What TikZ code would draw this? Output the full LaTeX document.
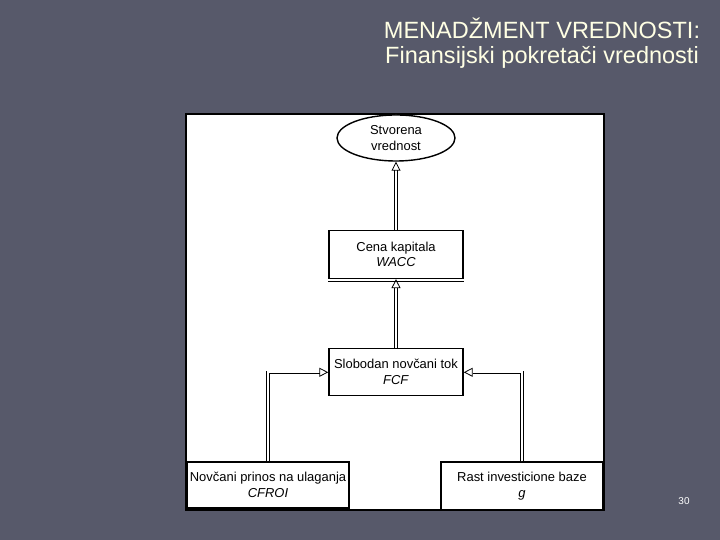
\documentclass[tikz,border=0pt]{standalone}
\usepackage{fontspec}
\setmainfont{Liberation Sans}
\usetikzlibrary{positioning,shapes.geometric,arrows.meta}
\definecolor{slate}{RGB}{87,89,106}
\definecolor{cream}{RGB}{255,255,228}

\begin{document}
\begin{tikzpicture}[x=1bp,y=1bp,
  box/.style={draw,line width=1.4bp,fill=white,align=center,inner sep=2bp,font=\fontsize{13}{16}\selectfont},
  conn/.style={double,double distance=1.8bp,line width=0.8bp,-{Triangle[open,length=9bp,width=9bp]}}]
        \useasboundingbox (0,0) rectangle (720,540);
        \fill[slate] (0,0) rectangle (720,540);
        \node[cream,align=center,font=\fontsize{23.6}{25}\selectfont] (title) at (542,497) {MENADŽMENT VREDNOSTI:\\Finansijski pokretači vrednosti};
        \node[white,font=\fontsize{10}{12}\selectfont] (num) at (684,39) {30};
        \node[draw,line width=1.4bp,fill=white,minimum width=418bp,minimum height=396bp] (panel) at (395,228) {};
        \node[ellipse,draw,line width=1.4bp,fill=white,minimum width=118bp,minimum height=46bp,inner sep=0pt,align=center,font=\fontsize{13}{16}\selectfont] (vred) at (396,402) {Stvorena\\vrednost};
        \node[box,minimum width=134bp,minimum height=48bp,below=68bp of vred] (wacc) {Cena kapitala\\\textit{WACC}};
        \node[box,minimum width=134bp,minimum height=47bp,below=69bp of wacc] (fcf) {Slobodan novčani tok\\\textit{FCF}};
        \node[box,minimum width=162bp,minimum height=46bp] (cfroi) at (268,55) {Novčani prinos na ulaganja\\\textit{CFROI}};
        \node[box,minimum width=162bp,minimum height=48bp] (rast) at (522,54) {Rast investicione baze\\\textit{g}};
        \draw[line width=0.9bp] ([yshift=-2.4bp]wacc.south west) -- ([yshift=-2.4bp]wacc.south east);
        \draw[conn] (wacc) -- (vred);
        \draw[conn] (fcf) -- (wacc);
        \draw[conn] (cfroi.north) |- (fcf.west);
        \draw[conn] (rast.north) |- (fcf.east);
      \end{tikzpicture}
\end{document}
